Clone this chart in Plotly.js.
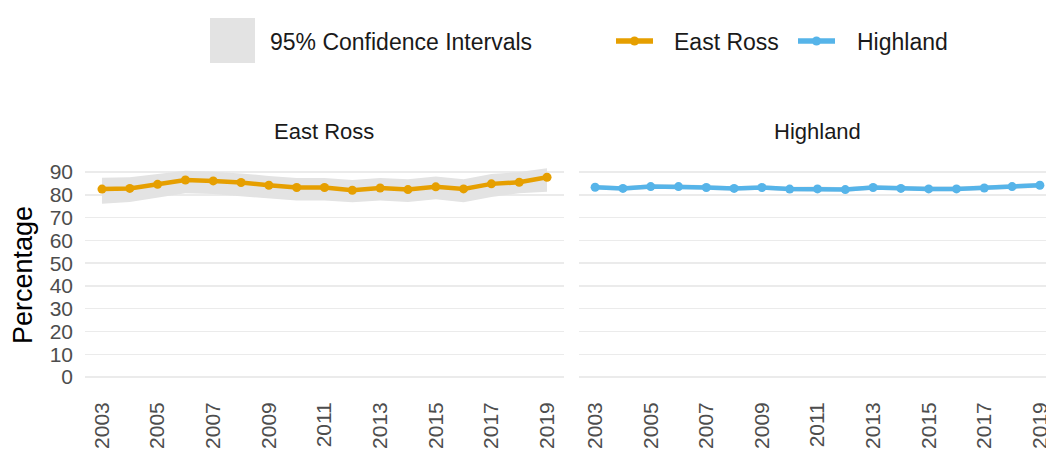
<!DOCTYPE html>
<html><head><meta charset="utf-8">
<script src="https://cdn.plot.ly/plotly-3.0.1.min.js"></script>
<style>html,body{margin:0;padding:0;background:#fff}#chart{width:1046px;height:450px}</style>
</head><body><div id="chart"></div>
<script>
const years = [2003,2004,2005,2006,2007,2008,2009,2010,2011,2012,2013,2014,2015,2016,2017,2018,2019];
const eastRoss = [82.5,82.8,84.6,86.5,86.1,85.4,84.2,83.2,83.2,82.0,83.0,82.3,83.5,82.6,84.8,85.5,87.7];
const eastRossUpper = [87.5,87.7,89.1,90.6,90.1,89.4,88.3,87.4,87.4,86.5,87.4,86.8,88.0,86.8,89.1,90.0,91.7];
const eastRossLower = [76.1,76.8,78.6,80.7,80.3,79.6,78.4,77.5,77.5,76.7,77.5,76.8,78.1,76.7,79.0,80.7,81.3];
const highland = [83.3,82.8,83.6,83.6,83.2,82.8,83.2,82.5,82.6,82.3,83.2,82.8,82.6,82.6,83.0,83.6,84.2];
const highlandUpper = [84.3,83.8,84.6,84.6,84.2,83.8,84.2,83.5,83.6,83.3,84.2,83.8,83.6,83.6,84.0,84.6,85.3];
const highlandLower = [82.3,81.8,82.6,82.6,82.2,81.8,82.2,81.5,81.6,81.3,82.2,81.8,81.6,81.6,82.0,82.6,83.1];
const tickYears = [2003,2005,2007,2009,2011,2013,2015,2017,2019];
const yTicks = [0,10,20,30,40,50,60,70,80,90];
const seriesNames = ['East Ross', 'Highland'];
const bandLabel = '95% Confidence Intervals';

const ORANGE = '#E69F00', BLUE = '#56B4E9', BAND = '#e3e3e3';
const FONT = 'Liberation Sans, Arial, sans-serif';
const W = 1046, H = 450;

function band(xs, up, lo, xa, ya){
  return {x: xs.concat(xs.slice().reverse()), y: up.concat(lo.slice().reverse()),
    xaxis: xa, yaxis: ya, type:'scatter', mode:'lines', fill:'toself', fillcolor: BAND,
    line:{width:0, color:BAND}, hoverinfo:'skip', showlegend:false};
}
const traces = [
  band(years, eastRossUpper, eastRossLower, 'x', 'y'),
  band(years, highlandUpper, highlandLower, 'x2', 'y2'),
  {x: years, y: eastRoss, xaxis:'x', yaxis:'y', type:'scatter', mode:'lines+markers', name:seriesNames[0],
   line:{color:ORANGE, width:4.5}, marker:{color:ORANGE, size:9}, showlegend:false},
  {x: years, y: highland, xaxis:'x2', yaxis:'y2', type:'scatter', mode:'lines+markers', name:seriesNames[1],
   line:{color:BLUE, width:4.5}, marker:{color:BLUE, size:9}, showlegend:false}
];

const yDom = [1 - 388/H, 1 - 162/H];
const xCommon = {tickmode:'array', tickvals: tickYears, ticktext: tickYears.map(String), tickangle:-90,
  showgrid:false, zeroline:false, showline:false, ticks:'', ticklabelstandoff: 9, ticklabeloverflow:'allow',
  tickfont:{family:FONT, size:21, color:'#4d4d4d'}, fixedrange:true};
const yCommon = {tickmode:'array', tickvals: yTicks, range:[-4.8, 94.4], showgrid:true, gridcolor:'#ebebeb', gridwidth:1.5,
  zeroline:false, showline:false, ticks:'', domain: yDom, tickfont:{family:FONT, size:21, color:'#4d4d4d'}};

// manual legend (paper coordinates)
const legY = 1 - 41/H;
const legItems = [{name: seriesNames[0], color: ORANGE, x0: 616, x1: 653, tx: 672},
                  {name: seriesNames[1], color: BLUE, x0: 798, x1: 835, tx: 855}];
const shapes = [
  {type:'rect', xref:'paper', yref:'paper', x0:210/W, x1:255/W, y0:1-63/H, y1:1-18/H, fillcolor:BAND, line:{width:0}}
];
const annotations = [
  {text:bandLabel, xref:'paper', yref:'paper', x:268/W, y:1-42/H, xanchor:'left', yanchor:'middle',
   showarrow:false, font:{family:FONT, size:23, color:'#1a1a1a'}},
  {text:seriesNames[0], xref:'paper', yref:'paper', x:324/W, y:1-131/H, xanchor:'center', yanchor:'middle',
   showarrow:false, font:{family:FONT, size:22, color:'#1a1a1a'}},
  {text:seriesNames[1], xref:'paper', yref:'paper', x:817/W, y:1-131/H, xanchor:'center', yanchor:'middle',
   showarrow:false, font:{family:FONT, size:22, color:'#1a1a1a'}}
];
legItems.forEach(it => {
  shapes.push({type:'line', xref:'paper', yref:'paper', x0:it.x0/W, x1:it.x1/W, y0:legY, y1:legY,
    line:{color:it.color, width:5.5}});
  const cx = (it.x0 + it.x1)/2;
  shapes.push({type:'circle', xref:'paper', yref:'paper', x0:(cx-4.5)/W, x1:(cx+4.5)/W, y0:legY-4.5/H, y1:legY+4.5/H,
    fillcolor:it.color, line:{width:0}});
  annotations.push({text:it.name, xref:'paper', yref:'paper', x:it.tx/W, y:1-42/H, xanchor:'left', yanchor:'middle',
    showarrow:false, font:{family:FONT, size:23, color:'#1a1a1a'}});
});

const layout = {
  width: W, height: H, margin:{l:0, r:0, t:0, b:0}, paper_bgcolor:'#fff', plot_bgcolor:'#fff',
  font:{family:FONT}, showlegend:false,
  xaxis: Object.assign({}, xCommon, {domain:[85/W, 564/W], range:[2002.39, 2019.61], anchor:'y'}),
  xaxis2: Object.assign({}, xCommon, {domain:[579/W, 1], range:[2002.42, 2019.22], anchor:'y2'}),
  yaxis: Object.assign({}, yCommon, {anchor:'x', ticklabelstandoff: 11,
    title:{text:'Percentage', font:{family:FONT, size:27, color:'#000'}, standoff: 9}}),
  yaxis2: Object.assign({}, yCommon, {anchor:'x2', showticklabels:false}),
  shapes: shapes,
  annotations: annotations
};
Plotly.newPlot('chart', traces, layout, {displayModeBar:false, staticPlot:true});
</script></body></html>
